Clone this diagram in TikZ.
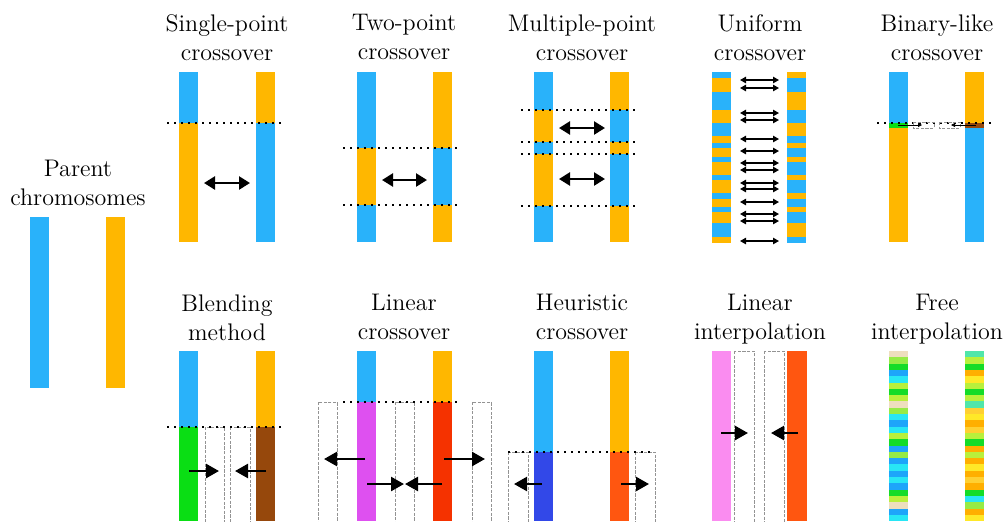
\documentclass[tikz,border=0pt]{standalone}
\usepackage{xcolor}
\definecolor{chblue}{RGB}{41,178,250}
\definecolor{chorange}{RGB}{255,183,0}
\definecolor{chgreen}{RGB}{10,222,20}
\definecolor{chbrown}{RGB}{150,72,12}
\definecolor{chmagenta}{RGB}{222,80,240}
\definecolor{chred}{RGB}{245,50,0}
\definecolor{chnavy}{RGB}{50,72,232}
\definecolor{chvermilion}{RGB}{255,86,16}
\definecolor{chpink}{RGB}{250,140,240}
% mixed genes for free interpolation
\definecolor{ftan}{RGB}{238,222,190}
\definecolor{flime}{RGB}{150,235,70}
\definecolor{fgreen}{RGB}{20,220,40}
\definecolor{fblue}{RGB}{30,165,250}
\definecolor{fcyan}{RGB}{40,230,245}
\definecolor{fyg}{RGB}{185,240,60}
\definecolor{fsea}{RGB}{80,230,170}
\definecolor{forange}{RGB}{255,175,0}
\definecolor{fyellow}{RGB}{255,232,40}
\definecolor{fyo}{RGB}{255,208,50}
\usepackage{tikz}
\usetikzlibrary{arrows.meta,positioning}

\begin{document}
\begin{tikzpicture}[x=0.5pt, y=-0.5pt,
        title/.style={font=\fontsize{12}{14.5}\selectfont, align=center, anchor=north, inner sep=0pt},
        cut/.style={line width=1pt, dash pattern=on 1pt off 2.5pt},
        slot/.style={draw=gray!85, line width=0.5pt, dash pattern=on 1.6pt off 0.7pt},
        xover/.style={{Triangle[length=5.5pt,width=6.5pt]}-{Triangle[length=5.5pt,width=6.5pt]}, line width=1.2pt},
        uniswap/.style={{Triangle[length=3pt,width=3.2pt]}-{Triangle[length=3pt,width=3.2pt]}, line width=0.7pt},
        push/.style={-{Triangle[length=6.5pt,width=7pt]}, line width=1.2pt},
        minipush/.style={-{Triangle[length=2pt,width=2pt]}, line width=0.4pt}
    ]
        \clip (0,0) rectangle (1005,521);

        % parents
        \node[title] (parent) at (78,160) {Parent\\chromosomes};
        \fill[chblue] (30,217) rectangle (49,388);
        \fill[chorange] (106,217) rectangle (125,388);

        % single-point
        \node[title] (single) at (227,14) {Single-point\\crossover};
        \fill[chblue] (179,72) rectangle (198,123);
        \fill[chorange] (179,123) rectangle (198,242);
        \fill[chorange] (256,72) rectangle (275,123);
        \fill[chblue] (256,123) rectangle (275,242);
        \draw[cut] (167,123) -- (284,123);
        \draw[xover] (204,183) -- (250,183);

        % two-point
        \node[title] (twopoint) at (404,14) {Two-point\\crossover};
        \fill[chblue] (357,72) rectangle (376,242);
        \fill[chorange] (357,148) rectangle (376,205);
        \fill[chorange] (433,72) rectangle (452,242);
        \fill[chblue] (433,148) rectangle (452,205);
        \draw[cut] (343,148) -- (462,148);
        \draw[cut] (343,205) -- (462,205);
        \draw[xover] (382,180) -- (427,180);

        % multiple-point
        \node[title] (multipoint) at (582,14) {Multiple-point\\crossover};
        \fill[chblue] (534,72) rectangle (553,242);
        \fill[chorange] (610,72) rectangle (629,242);
        \foreach \ya/\yb in {110/142, 154/206} {
            \fill[chorange] (534,\ya) rectangle (553,\yb);
            \fill[chblue] (610,\ya) rectangle (629,\yb);
        }
        \foreach \y in {110,142,154,206}
            \draw[cut] (521,\y) -- (639,\y);
        \draw[xover] (559,128) -- (605,128);
        \draw[xover] (559,179) -- (605,179);

        % uniform
        \node[title] (uniform) at (760,14) {Uniform\\crossover};
        \fill[chorange] (712,72) rectangle (731,243);
        \fill[chblue] (787,72) rectangle (806,243);
        \foreach \ya/\yb in {72/78, 92/110, 123/136, 143/148, 157/162, 175/180, 193/199, 207/212, 223/237} {
            \fill[chblue] (712,\ya) rectangle (731,\yb);
            \fill[chorange] (787,\ya) rectangle (806,\yb);
        }
        \foreach \y in {80,88,113,120,139,151,163,170,183,189,202,214,221,241}
            \draw[uniswap] (740,\y) -- (779,\y);

        % binary-like
        \node[title] (binary) at (937,14) {Binary-like\\crossover};
        \fill[chblue] (889,72) rectangle (908,123);
        \fill[chgreen] (889,123) rectangle (908,128);
        \fill[chorange] (889,128) rectangle (908,242);
        \fill[chorange] (965,72) rectangle (984,123);
        \fill[chbrown] (965,123) rectangle (984,128);
        \fill[chblue] (965,128) rectangle (984,242);
        \draw[cut] (877,123) -- (993,123);
        \draw[slot] (913,122) rectangle (934,128);
        \draw[slot] (939,122) rectangle (960,128);
        \draw[minipush] (898,125) -- (922,125);
        \draw[minipush] (976,125) -- (951,125);

        % blending
        \node[title] (blending) at (227,294) {Blending\\method};
        \fill[chblue] (179,351) rectangle (198,427);
        \fill[chgreen] (179,427) rectangle (198,521);
        \fill[chorange] (256,351) rectangle (275,427);
        \fill[chbrown] (256,427) rectangle (275,521);
        \draw[slot] (205,427) rectangle (224,530);
        \draw[slot] (230,427) rectangle (250,530);
        \draw[cut] (167,427) -- (284,427);
        \draw[push] (189,471) -- (219,471);
        \draw[push] (266,471) -- (235,471);

        % linear crossover
        \node[title] (linear) at (404,294) {Linear\\crossover};
        \fill[chblue] (357,351) rectangle (376,402);
        \fill[chmagenta] (357,402) rectangle (376,521);
        \fill[chorange] (433,351) rectangle (452,402);
        \fill[chred] (433,402) rectangle (452,521);
        \foreach \x in {318,395,472}
            \draw[slot] (\x,402) rectangle (\x+19,530);
        \draw[cut] (343,402) -- (462,402);
        \draw[push] (365,459) -- (324,459);
        \draw[push] (444,459) -- (485,459);
        \draw[push] (367,484) -- (404,484);
        \draw[push] (442,484) -- (405,484);

        % heuristic
        \node[title] (heuristic) at (582,294) {Heuristic\\crossover};
        \fill[chblue] (534,351) rectangle (553,452);
        \fill[chnavy] (534,452) rectangle (553,521);
        \fill[chorange] (610,351) rectangle (629,452);
        \fill[chvermilion] (610,452) rectangle (629,521);
        \draw[slot] (508,452) rectangle (528,530);
        \draw[slot] (635,452) rectangle (655,530);
        \draw[cut] (508,452) -- (654,452);
        \draw[push] (542,484) -- (514,484);
        \draw[push] (621,484) -- (649,484);

        % linear interpolation
        \node[title] (interp) at (760,294) {Linear\\interpolation};
        \fill[chpink] (712,351) rectangle (731,521);
        \fill[chvermilion] (787,351) rectangle (807,521);
        \draw[slot] (734,351) rectangle (754,530);
        \draw[slot] (764,351) rectangle (784,530);
        \draw[push] (721,433) -- (748,433);
        \draw[push] (798,433) -- (771,433);

        % free interpolation
        \node[title] (free) at (937,294) {Free\\interpolation};
        \foreach \c [count=\i from 0] in {ftan,flime,fgreen,fblue,fcyan,fyg,fgreen,fyg,ftan,flime,fcyan,fblue,fcyan,fyg,fgreen,fblue,flime,fblue,fcyan,fblue,fcyan,fblue,fgreen,fyg,ftan,fblue,fcyan}
            \fill[\c] (889,351+6.3*\i) rectangle (908,357.6+6.3*\i);
        \foreach \c [count=\i from 0] in {fsea,fyg,fgreen,forange,fyellow,fyg,fgreen,fyg,fsea,fyo,fyellow,forange,fyo,fyg,fgreen,forange,fyg,forange,fyellow,forange,fyo,forange,fgreen,fcyan,flime,forange,fyellow}
            \fill[\c] (965,351+6.3*\i) rectangle (984,357.6+6.3*\i);
    \end{tikzpicture}
\end{document}
